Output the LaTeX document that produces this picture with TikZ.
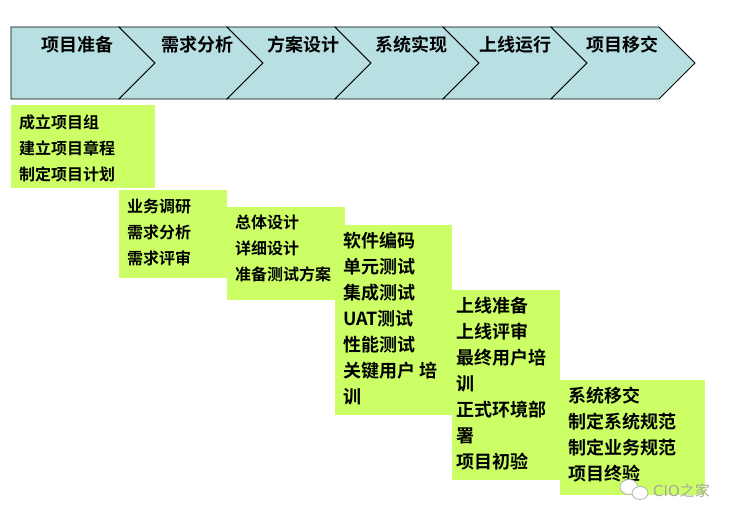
\documentclass[tikz,border=0pt]{standalone}
\usepackage{fontspec}
\newfontfamily\cjk{Noto Sans CJK SC}[BoldFont={Noto Sans CJK SC Bold}]
\begin{document}
\begin{tikzpicture}[x=1pt,y=-1pt,
  chev/.style={fill={rgb,255:red,184;green,223;blue,226},draw=black,line width=0.8pt},
  box/.style={fill={rgb,255:red,204;green,255;blue,102},draw=none},
  lab/.style={font=\cjk\bfseries\fontsize{18}{18}\selectfont,anchor=base},
  txt/.style={font=\cjk\bfseries\fontsize{#1}{26}\selectfont,align=left,anchor=north west,inner sep=0pt}]
\useasboundingbox (0,0) rectangle (742,526);
% banner
\draw[chev] (11,27) -- (119,27) -- (155,63) -- (119,99) -- (11,99) -- cycle;
\foreach \i in {1,...,5}{
  \pgfmathsetmacro\a{119+108*(\i-1)}
  \pgfmathsetmacro\b{\a+108}
  \draw[chev] (\a,27) -- (\b,27) -- (\b+36,63) -- (\b,99) -- (\a,99) -- (\a+36,63) -- cycle;
}
\node[lab] (l1) at (77,52) {项目准备};
\node[lab] (l2) at (197,52) {需求分析};
\node[lab] (l3) at (303,52) {方案设计};
\node[lab] (l4) at (411,52) {系统实现};
\node[lab] (l5) at (515,52) {上线运行};
\node[lab] (l6) at (622,52) {项目移交};
% boxes
\fill[box] (11,105) rectangle (155,188);
\fill[box] (119,190) rectangle (227,278);
\fill[box] (227,207) rectangle (345,300);
\fill[box] (335,225) rectangle (452,415);
\fill[box] (452,290) rectangle (560,480);
\fill[box] (560,380) rectangle (705,495);
\node[txt={16}] (t1) at (19,115) {成立项目组\\建立项目章程\\制定项目计划};
\node[txt={16}] (t2) at (127,199) {业务调研\\需求分析\\需求评审};
\node[txt={16}] (t3) at (235,215) {总体设计\\详细设计\\准备测试方案};
\node[txt={18}] (t4) at (343,232) {软件编码\\单元测试\\集成测试\\UAT测试\\性能测试\\关键用户 培\\训};
\node[txt={18}] (t5) at (456,297) {上线准备\\上线评审\\最终用户培\\训\\正式环境部\\署\\项目初验};
\node[txt={18}] (t6) at (568,387) {系统移交\\制定系统规范\\制定业务规范\\项目终验};
% watermark
\draw[gray!60,line width=0.8pt,fill=white] (629,487) ellipse (9 and 7.5);
\draw[gray!60,line width=0.8pt,fill=white] (640,493) ellipse (8 and 6.5);
\node[font=\fontspec{DejaVu Sans}\fontsize{15}{15}\selectfont,text=gray!70,anchor=west,inner sep=0pt] (wm) at (653,491) {CIO\cjk 之家};
\end{tikzpicture}
\end{document}
